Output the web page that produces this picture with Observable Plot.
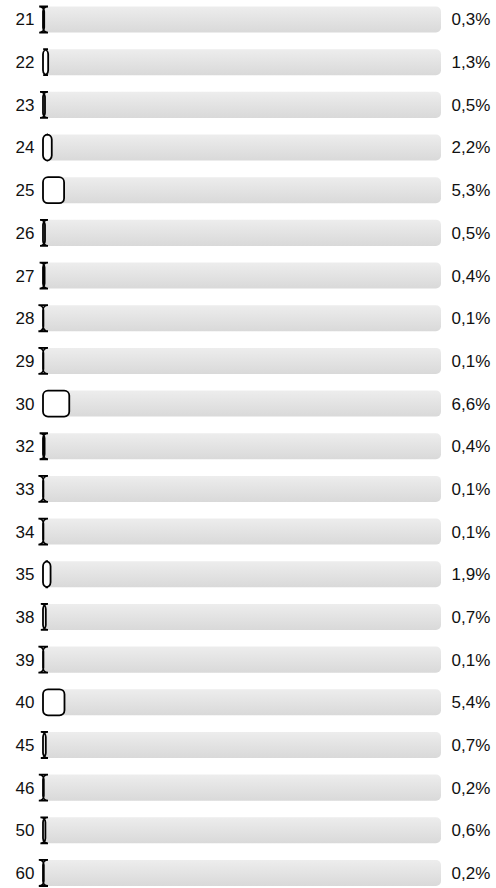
<!DOCTYPE html>
<html>
<head>
<meta charset="utf-8">
<script src="https://cdn.jsdelivr.net/npm/d3@7"></script>
<script src="https://cdn.jsdelivr.net/npm/@observablehq/plot@0.6"></script>
<style>
  html, body { margin: 0; padding: 0; background: #fff; }
  #chart svg { display: block; }
</style>
</head>
<body>
<div id="chart"></div>
<script>
const ages = ["21","22","23","24","25","26","27","28","29","30","32","33","34","35","38","39","40","45","46","50","60"];
const values = [0.3,1.3,0.5,2.2,5.3,0.5,0.4,0.1,0.1,6.6,0.4,0.1,0.1,1.9,0.7,0.1,5.4,0.7,0.2,0.6,0.2];

const rows = ages.map((a, i) => ({age: a, value: values[i]}));
const fmt = v => v.toFixed(1).replace(".", ",") + "%";

function gradientDefs() {
  const svg = d3.create("svg:defs");
  const g = svg.append("linearGradient")
    .attr("id", "bggrad").attr("x1", 0).attr("y1", 0).attr("x2", 0).attr("y2", 1);
  g.append("stop").attr("offset", "0%").attr("stop-color", "#ededed");
  g.append("stop").attr("offset", "100%").attr("stop-color", "#d9d9d9");
  return svg.node();
}

function roundedPaths(index, scales, vals, dims, ctx, next) {
  const g = next(index, scales, vals, dims, ctx);
  const r = 5;
  d3.select(g).selectAll("rect").each(function() {
    const x = +this.getAttribute("x"), y = +this.getAttribute("y");
    const w = +this.getAttribute("width"), h = +this.getAttribute("height");
    const d = `M${x + r},${y}H${x + w - r}A${r},${r} 0 0 1 ${x + w},${y + r}V${y + h - r}` +
      `A${r},${r} 0 0 1 ${x + w - r},${y + h}H${x + r}A${r},${r} 0 0 1 ${x},${y + h - r}` +
      `V${y + r}A${r},${r} 0 0 1 ${x + r},${y}Z`;
    const p = document.createElementNS("http://www.w3.org/2000/svg", "path");
    p.setAttribute("d", d);
    this.replaceWith(p);
  });
  return g;
}

const chart = Plot.plot({
  width: 496,
  height: 888,
  marginLeft: 43,
  marginRight: 55,
  marginTop: 6.5,
  marginBottom: 2,
  style: {fontFamily: "Liberation Sans, Arial, sans-serif", fontSize: "17px", background: "#fff"},
  x: {domain: [0, 100], axis: null},
  y: {domain: ages, paddingInner: 0.39, paddingOuter: 0, round: false, axis: null},
  marks: [
    gradientDefs,
    Plot.barX(rows, {x1: 0, x2: 100, y: "age", fill: "url(#bggrad)", rx: 5}),
    Plot.barX(rows, {x1: 0, x2: "value", y: "age", fill: "white", stroke: "black", strokeWidth: 1.8, render: roundedPaths}),
    Plot.text(rows, {x: 0, y: "age", text: "age", textAnchor: "end", dx: -9, fill: "#111", fontSize: 17}),
    Plot.text(rows, {x: 100, y: "age", text: d => fmt(d.value), textAnchor: "start", dx: 10, fill: "#111", fontSize: 17})
  ]
});
document.getElementById("chart").appendChild(chart);
</script>
</body>
</html>
